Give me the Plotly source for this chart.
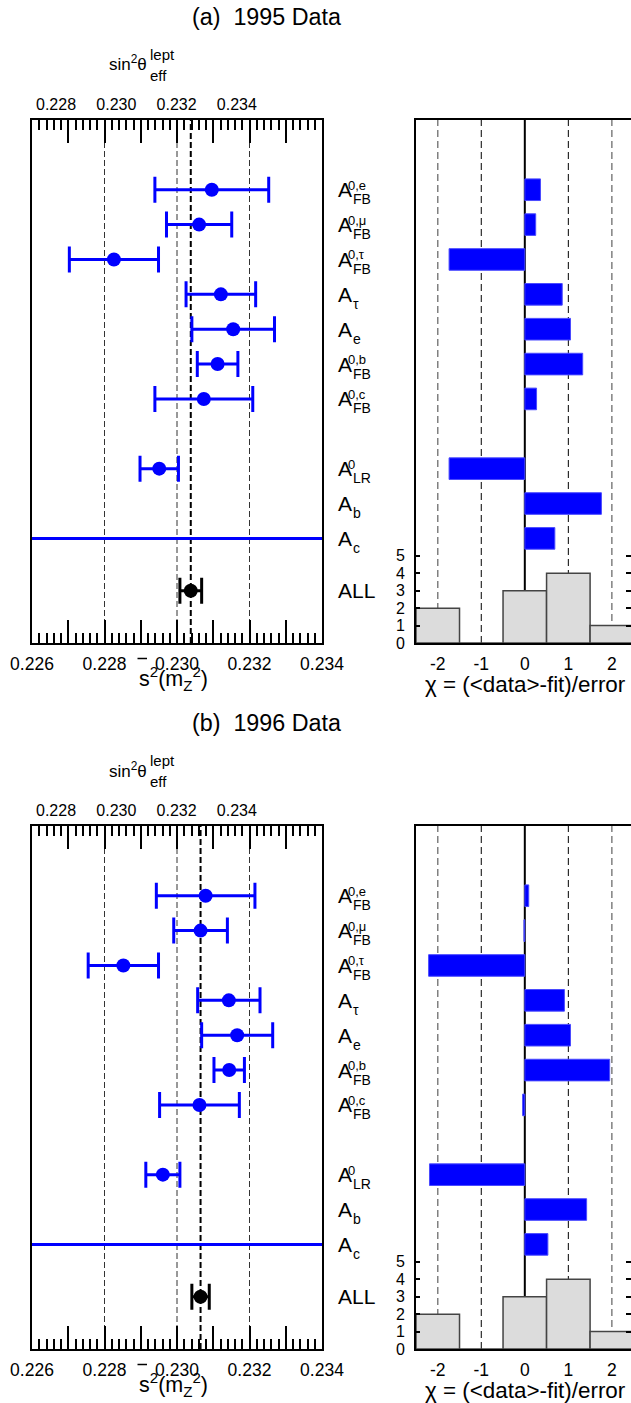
import plotly.graph_objects as go

W, H = 631, 1403

# ---------------- data ----------------
row_names = ["A_FB^0,e", "A_FB^0,mu", "A_FB^0,tau", "A_tau", "A_e",
             "A_FB^0,b", "A_FB^0,c", "A_LR^0", "A_b", "A_c"]
row_y = [0, 1, 2, 3, 4, 5, 6, 8, 9, 10]
all_y = 11.5
lab_main = ["A", "A", "A", "A", "A", "A", "A", "A", "A", "A"]
lab_sup = ["0,e", "0,μ", "0,τ", "", "", "0,b", "0,c", "0", "", ""]
lab_sub = ["FB", "FB", "FB", "τ", "e", "FB", "FB", "LR", "b", "c"]
all_label = "ALL"

s2_ticks = [0.226, 0.227, 0.228, 0.229, 0.230, 0.231, 0.232, 0.233, 0.234]
s2_ticktext = ["0.226", "", "0.228", "", "0.230", "", "0.232", "", "0.234"]
grid_s2 = [0.228, 0.230, 0.232]
sin_ticks = [0.228, 0.230, 0.232, 0.234]
sin_ticktext = ["0.228", "0.230", "0.232", "0.234"]
chi_ticks = [-2, -1, 0, 1, 2]
chi_ticktext = ["-2", "-1", "0", "1", "2"]
chi_grid_gray = [-2, 2]
chi_grid_black = [-1, 1]
hist_centers = [-2, -1, 0, 1, 2]
hist_ticks = [0, 1, 2, 3, 4, 5]

# 1995
meas_1995 = [0.23096, 0.23061, 0.22826, 0.23121, 0.23155, 0.23112, 0.23074, 0.22951, None, 0.2245]
err_1995 = [0.00157, 0.00090, 0.00123, 0.00096, 0.00114, 0.00056, 0.00135, 0.00053, None, 0.0120]
all_1995 = 0.23038
all_err_1995 = 0.00030
chi_1995 = [0.36, 0.25, -1.74, 0.86, 1.05, 1.33, 0.27, -1.74, 1.76, 0.69]
hist_1995 = [2, 0, 3, 4, 1]

# 1996
meas_1996 = [0.23079, 0.23065, 0.22852, 0.23143, 0.23166, 0.23144, 0.23062, 0.22961, None, 0.2245]
err_1996 = [0.00136, 0.00074, 0.00097, 0.00086, 0.00098, 0.00042, 0.00110, 0.00047, None, 0.0120]
all_1996 = 0.23065
all_err_1996 = 0.00024
chi_1996 = [0.09, -0.02, -2.21, 0.91, 1.05, 1.95, -0.05, -2.19, 1.42, 0.53]
hist_1996 = [2, 0, 3, 4, 1]

# ---------------- style ----------------
FONT = "Liberation Sans, Arial, sans-serif"
BLUE = "#0000ff"

fig = go.Figure()
layout = {}
shapes = []
annotations = []


def xp(px):
    return px / W


def yp(py):
    return 1 - py / H


def axkey(letter, i):
    return (f"{letter}axis" if i == 1 else f"{letter}axis{i}"), (letter if i == 1 else f"{letter}{i}")


def panel(p, top, title, meas, err, all_v, all_e, chi, counts):
    bot = top + 523
    ydom = [yp(bot), yp(top)]
    kxl, xl = axkey("x", 3 * p + 1)
    kxt, xt = axkey("x", 3 * p + 2)
    kxr, xr = axkey("x", 3 * p + 3)
    kyl, yl = axkey("y", 4 * p + 1)
    kyr, yr = axkey("y", 4 * p + 2)
    kyh, yh = axkey("y", 4 * p + 3)
    kyh2, yh2 = axkey("y", 4 * p + 4)

    layout[kxl] = dict(domain=[xp(32), xp(322)], range=[0.226, 0.234], anchor=yl,
                       tickvals=s2_ticks, ticktext=s2_ticktext, ticks="inside", ticklen=23,
                       tickwidth=2, tickcolor="black", showline=True, linewidth=2, linecolor="black",
                       mirror="ticks", showgrid=False, zeroline=False, automargin=False,
                       minor=dict(dtick=0.0002, tick0=0.226, ticks="inside", ticklen=10,
                                  tickwidth=1.5, tickcolor="black", showgrid=False),
                       tickfont=dict(family=FONT, size=17.5, color="black"), ticklabelstandoff=4)
    layout[kxt] = dict(overlaying=xl, side="top", anchor=yl, automargin=False,
                       range=[0.227204, 0.236823], tickvals=sin_ticks, ticktext=sin_ticktext,
                       ticks="", showline=False, showgrid=False, zeroline=False,
                       tickfont=dict(family=FONT, size=16, color="black"), ticklabelstandoff=6)
    layout[kyl] = dict(domain=ydom, range=[13, -2], anchor=xl, showline=True, linewidth=2,
                       linecolor="black", mirror=True, ticks="", showticklabels=False,
                       showgrid=False, zeroline=False, automargin=False)
    layout[kxr] = dict(domain=[xp(416), 1.0], range=[-2.5, 2.44], anchor=yr,
                       tickvals=chi_ticks, ticktext=chi_ticktext, ticks="", showline=True,
                       linewidth=2, linecolor="black", mirror=True, showgrid=False, zeroline=False,
                       automargin=False,
                       tickfont=dict(family=FONT, size=17.5, color="black"), ticklabelstandoff=4)
    layout[kyr] = dict(domain=ydom, range=[13, -2], anchor=xr, showline=True, linewidth=2,
                       linecolor="black", ticks="", showticklabels=False, showgrid=False,
                       zeroline=False, automargin=False)
    layout[kyh] = dict(overlaying=yr, range=[0, 30], anchor=xr, side="left",
                       tickvals=hist_ticks, ticks="inside", ticklen=4, tickwidth=1.5,
                       tickcolor="black", showline=False, showgrid=False, zeroline=False,
                       automargin=False,
                       tickfont=dict(family=FONT, size=16, color="black"), ticklabelstandoff=10)
    layout[kyh2] = dict(overlaying=yr, range=[0, 30], anchor=xr, side="right",
                        tickvals=hist_ticks, ticks="inside", ticklen=5, tickwidth=1.5,
                        tickcolor="black", showticklabels=False, showline=False,
                        showgrid=False, zeroline=False, automargin=False)

    # measurements
    fig.add_trace(go.Scatter(
        x=meas, y=row_y, mode="markers", xaxis=xl, yaxis=yl,
        marker=dict(color=BLUE, size=14),
        error_x=dict(type="data", array=err, color=BLUE, thickness=3, width=13),
        showlegend=False, hoverinfo="skip"))
    fig.add_trace(go.Scatter(
        x=[all_v], y=[all_y], mode="markers", xaxis=xl, yaxis=yl,
        marker=dict(color="black", size=14),
        error_x=dict(type="data", array=[all_e], color="black", thickness=3, width=13),
        showlegend=False, hoverinfo="skip"))
    fig.add_trace(go.Scatter(x=[sin_ticks[0]], y=[0], mode="none", xaxis=xt, yaxis=yl,
                             showlegend=False, hoverinfo="skip"))
    # chi bars
    fig.add_trace(go.Bar(
        x=chi, y=row_y, orientation="h", base=0, width=0.62, xaxis=xr, yaxis=yr,
        marker=dict(color=BLUE, line=dict(color="#4a4aff", width=1)),
        showlegend=False, hoverinfo="skip"))
    # histogram
    fig.add_trace(go.Bar(
        x=hist_centers, y=counts, width=1, xaxis=xr, yaxis=yh,
        marker=dict(color="#dcdcdc", line=dict(color="#444444", width=1.5)),
        showlegend=False, hoverinfo="skip"))
    fig.add_trace(go.Scatter(x=[hist_centers[0]], y=[0], mode="none", xaxis=xr, yaxis=yh2,
                             showlegend=False, hoverinfo="skip"))

    # grid / reference lines
    for v in grid_s2:
        shapes.append(dict(type="line", xref=xl, yref=f"{yl} domain", x0=v, x1=v, y0=0, y1=1,
                           line=dict(color="#333333", width=1, dash="6px,3px"), layer="below"))
    shapes.append(dict(type="line", xref=xl, yref=f"{yl} domain", x0=all_v, x1=all_v, y0=0, y1=1,
                       line=dict(color="black", width=2, dash="6px,3px"), layer="below"))
    for v in chi_grid_gray:
        shapes.append(dict(type="line", xref=xr, yref=f"{yr} domain", x0=v, x1=v, y0=0, y1=1,
                           line=dict(color="#808080", width=1.5, dash="7px,4px"), layer="below"))
    for v in chi_grid_black:
        shapes.append(dict(type="line", xref=xr, yref=f"{yr} domain", x0=v, x1=v, y0=0, y1=1,
                           line=dict(color="black", width=1, dash="7px,4px"), layer="below"))
    shapes.append(dict(type="line", xref=xr, yref=f"{yr} domain", x0=0, x1=0, y0=0, y1=1,
                       line=dict(color="black", width=2), layer="below"))

    # row labels
    for yv, m, sp, sb in zip(row_y, lab_main, lab_sup, lab_sub):
        annotations.append(dict(text=m, x=xp(336.5), xref="paper", y=yv, yref=yl,
                                xanchor="left", yanchor="middle", showarrow=False, borderpad=0,
                                font=dict(family=FONT, size=21, color="black")))
        if sp:
            annotations.append(dict(text=sp, x=xp(347.2), xref="paper", y=yv, yref=yl,
                                    yshift=4.5, xanchor="left", yanchor="middle", showarrow=False,
                                    borderpad=0, font=dict(family=FONT, size=13, color="black")))
        if sb:
            annotations.append(dict(text=sb, x=xp(351.8), xref="paper", y=yv, yref=yl,
                                    yshift=-9.5, xanchor="left", yanchor="middle", showarrow=False,
                                    borderpad=0, font=dict(family=FONT, size=14, color="black")))
    annotations.append(dict(text=all_label, x=xp(336.5), xref="paper", y=all_y, yref=yl,
                            xanchor="left", yanchor="middle", showarrow=False, borderpad=0,
                            font=dict(family=FONT, size=21, color="black")))

    # titles
    annotations.append(dict(text=title, x=xp(266), y=yp(top - 103), xref="paper", yref="paper",
                            xanchor="center", yanchor="middle", showarrow=False,
                            font=dict(family=FONT, size=23.3, color="black")))
    annotations.append(dict(text="sin<sup>2</sup>θ", x=xp(147.5), y=yp(top - 56.5), xref="paper",
                            yref="paper", xanchor="right", yanchor="middle", showarrow=False,
                            borderpad=0, font=dict(family=FONT, size=17, color="black")))
    annotations.append(dict(text="lept", x=xp(148.5), y=yp(top - 65.5), xref="paper",
                            yref="paper", xanchor="left", yanchor="middle", showarrow=False,
                            borderpad=0, font=dict(family=FONT, size=15, color="black")))
    annotations.append(dict(text="eff", x=xp(148.5), y=yp(top - 45), xref="paper",
                            yref="paper", xanchor="left", yanchor="middle", showarrow=False,
                            borderpad=0, font=dict(family=FONT, size=15, color="black")))
    annotations.append(dict(text="s<sup>2</sup>(m<sub>Z</sub><sup>2</sup>)",
                            x=xp(138), y=yp(bot + 35), xref="paper", yref="paper",
                            xanchor="left", yanchor="middle", showarrow=False, borderpad=0,
                            font=dict(family=FONT, size=21.5, color="black")))
    # overline of s-bar
    shapes.append(dict(type="line", xref="paper", yref="paper", x0=xp(137.5), x1=xp(147),
                       y0=yp(bot + 15.5), y1=yp(bot + 15.5), line=dict(color="black", width=1.5)))
    annotations.append(dict(text="χ = (&lt;data&gt;-fit)/error", x=xp(525), y=yp(bot + 41),
                            xref="paper", yref="paper", xanchor="center", yanchor="middle",
                            showarrow=False, font=dict(family=FONT, size=22.4, color="black")))


panel(0, 120, "(a)\u00a0 1995 Data", meas_1995, err_1995, all_1995, all_err_1995, chi_1995, hist_1995)
panel(1, 826, "(b)\u00a0 1996 Data", meas_1996, err_1996, all_1996, all_err_1996, chi_1996, hist_1996)

fig.update_layout(width=W, height=H, autosize=False,
                  margin=dict(l=0, r=0, t=0, b=0, pad=0, autoexpand=False),
                  paper_bgcolor="white", plot_bgcolor="rgba(0,0,0,0)",
                  barmode="overlay", showlegend=False,
                  font=dict(family=FONT, color="black"),
                  shapes=shapes, annotations=annotations, **layout)

fig.write_html("out.html", config={"responsive": False})
